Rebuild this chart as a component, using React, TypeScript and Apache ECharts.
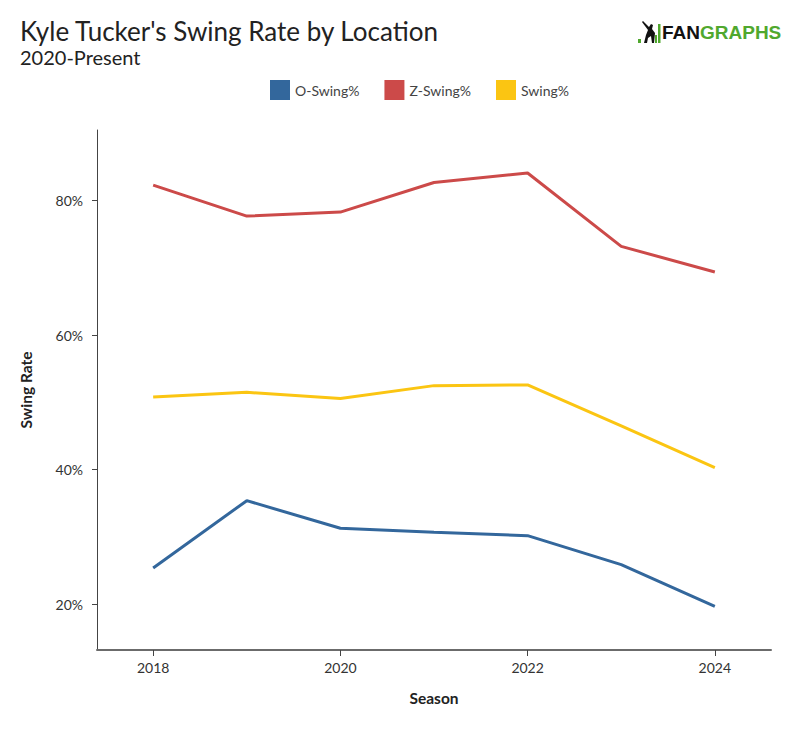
import React, { useEffect, useRef } from "react";
import * as echarts from "echarts";

const years = [2018, 2019, 2020, 2021, 2022, 2023, 2024];
const oSwing = [25.4, 35.4, 31.3, 30.7, 30.2, 25.9, 19.7];
const zSwing = [82.3, 77.7, 78.3, 82.7, 84.1, 73.2, 69.4];
const swing = [50.8, 51.5, 50.6, 52.5, 52.6, 46.5, 40.3];
const xTicks = [2018, 2020, 2022, 2024];
const yTicks = [20, 40, 60, 80];
const seriesNames = ["O-Swing%", "Z-Swing%", "Swing%"];
const seriesColors = ["#33679c", "#cc4a49", "#fbc512"];

const FONT = "Lato, 'Noto Sans', sans-serif";

export default function App() {
  const ref = useRef<HTMLDivElement>(null);
  useEffect(() => {
    if (!ref.current) return;
    const chart = echarts.init(ref.current, null, { renderer: "svg" });
    const values = [oSwing, zSwing, swing];
    const option: any = {
      animation: false,
      backgroundColor: "#ffffff",
      textStyle: { fontFamily: FONT },
      legend: {
        left: 270,
        top: 80,
        padding: 0,
        icon: "rect",
        itemWidth: 20,
        itemHeight: 20,
        itemGap: 25,
        selectedMode: false,
        textStyle: { fontSize: 14, color: "#444", fontFamily: FONT },
        data: seriesNames,
      },
      grid: { left: 97, right: 29, top: 130, bottom: 80 },
      xAxis: {
        type: "value",
        min: 2017.4,
        max: 2024.6,
        name: "Season",
        nameLocation: "middle",
        nameGap: 40,
        nameTextStyle: { fontSize: 15.5, fontWeight: "bold", color: "#222", fontFamily: FONT },
        axisLine: { show: true, lineStyle: { color: "#6b6b6b", width: 2 } },
        axisTick: { show: true, length: 6, customValues: xTicks, lineStyle: { color: "#444" } },
        axisLabel: {
          customValues: xTicks,
          formatter: (v: number) => String(v),
          fontSize: 14,
          color: "#333",
          margin: 10,
          fontFamily: FONT,
        },
        splitLine: { show: false },
      },
      yAxis: {
        type: "value",
        min: 13.2,
        max: 90.5,
        name: "Swing Rate",
        nameLocation: "middle",
        nameRotate: 90,
        nameGap: 63,
        nameTextStyle: { fontSize: 15.5, fontWeight: "bold", color: "#222", fontFamily: FONT },
        axisLine: { show: true, lineStyle: { color: "#444", width: 1 } },
        axisTick: { show: true, length: 5, customValues: yTicks, lineStyle: { color: "#444" } },
        axisLabel: {
          customValues: yTicks,
          formatter: (v: number) => v + "%",
          fontSize: 14,
          color: "#333",
          margin: 14,
          fontFamily: FONT,
        },
        splitLine: { show: false },
      },
      series: seriesNames.map((name, i) => ({
        name,
        type: "line",
        symbol: "none",
        color: seriesColors[i],
        lineStyle: { width: 3, color: seriesColors[i] },
        data: years.map((y, j) => [y, values[i][j]]),
      })),
      graphic: [
        {
          type: "text",
          x: 20,
          y: 31,
          style: {
            text: "Kyle Tucker's Swing Rate by Location",
            font: `26px ${FONT}`,
            fill: "#222",
            verticalAlign: "middle",
          },
        },
        {
          type: "text",
          x: 20,
          y: 57,
          style: {
            text: "2020-Present",
            font: `20px ${FONT}`,
            fill: "#222",
            verticalAlign: "middle",
          },
        },
        {
          type: "group",
          children: [
            { type: "rect", shape: { x: 638, y: 39, width: 3, height: 4 }, style: { fill: "#50a82e" } },
            {
              type: "polygon",
              shape: {
                points: [
                  [643, 21], [649, 27], [651, 24], [653, 25], [652, 29],
                  [655, 33], [654, 43], [652, 43], [651, 36], [648, 38],
                  [647, 43], [644, 43], [646, 35], [648, 30], [642, 22],
                ],
              },
              style: { fill: "#111" },
            },
            { type: "rect", shape: { x: 655, y: 35, width: 2, height: 8 }, style: { fill: "#50a82e" } },
            { type: "rect", shape: { x: 658, y: 24, width: 2.5, height: 19 }, style: { fill: "#50a82e" } },
            {
              type: "text",
              x: 662,
              y: 32,
              style: {
                text: "{a|FAN}{b|GRAPHS}",
                verticalAlign: "middle",
                rich: {
                  a: { fill: "#111", fontSize: 19, fontWeight: "bold", fontFamily: "'Liberation Sans', Arial, sans-serif" },
                  b: { fill: "#50a82e", fontSize: 19, fontWeight: "bold", fontFamily: "'Liberation Sans', Arial, sans-serif" },
                },
              },
            },
          ],
        },
      ],
    };
    chart.setOption(option);
    return () => chart.dispose();
  }, []);
  return (
    <div
      ref={ref}
      style={{ position: "absolute", left: 0, top: 0, width: 800, height: 730, background: "#fff" }}
    />
  );
}
